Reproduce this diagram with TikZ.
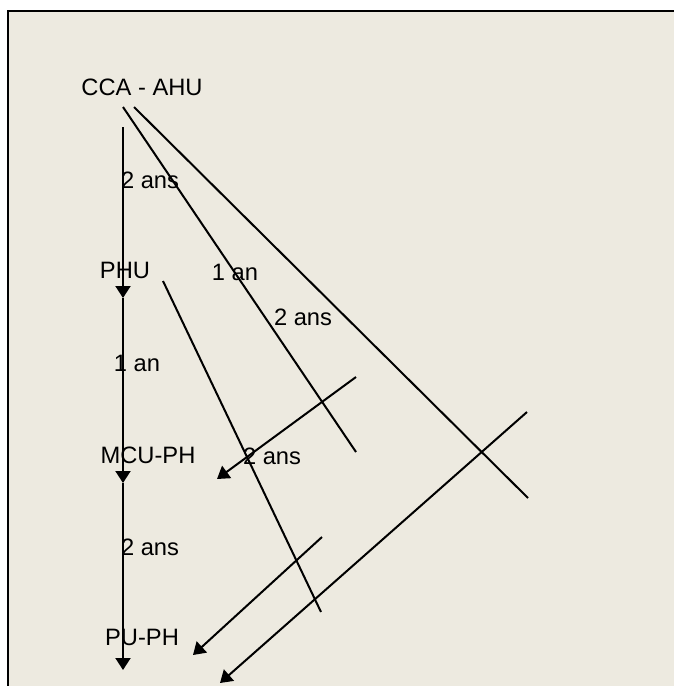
\documentclass[tikz,border=0pt]{standalone}
\usepackage{fontspec}
\setmainfont{Liberation Sans}
\usetikzlibrary{arrows.meta}
\definecolor{cursus@paper}{RGB}{237,234,224}
\tikzset{
  cursus/.style={
    x=0.5pt, y=-0.5pt,
    line width=1pt,
    >={Triangle[length=6pt,width=7.5pt]},
    every node/.style={font=\fontsize{11.85}{14}\selectfont, inner sep=0pt}
  },
  grade/.style={anchor=center},      % position title
  delay/.style={anchor=center},      % duration label
  track/.style={line width=1pt, draw=black},
  promo/.style={->, line width=1pt, draw=black}
}

\begin{document}
\begin{tikzpicture}[cursus]
\useasboundingbox (0,0) rectangle (674,686);
\fill[white] (0,0) rectangle (674,686);

% Frame, open to the right and bottom
\fill[cursus@paper] (8,11) rectangle (674,686);
\draw[line width=1pt] (8,686) -- (8,11) -- (674,11);

% Positions down the left side
\node[grade] (cca) at (142,87)  {CCA - AHU};
\node[grade] (phu) at (125,270) {PHU};
\node[grade] (mcu) at (148,455) {MCU-PH};
\node[grade] (pu)  at (142,637) {PU-PH};

% Points of the main axis
\coordinate (axtop) at (123,127);
\coordinate (axphu) at (123,298);
\coordinate (axmcu) at (123,483);
\coordinate (axpu)  at (123,670);

% Main axis
\draw[promo] (axtop) -- (axphu);
\draw[promo] (axphu) -- (axmcu);
\draw[promo] (axmcu) -- (axpu);

\node[delay] (d1) at (150,180) {2 ans};
\node[delay] (d2) at (137,363) {1 an};
\node[delay] (d3) at (150,547) {2 ans};

% Shortcut lines
\coordinate (s1a) at (123,107);
\coordinate (s1b) at (356,452);
\coordinate (s2a) at (134,107);
\coordinate (s2b) at (528,498);
\coordinate (s3a) at (163,281);
\coordinate (s3b) at (321,612);
\draw[track] (s1a) -- (s1b);
\draw[track] (s2a) -- (s2b);
\draw[track] (s3a) -- (s3b);

\node[delay] (d4) at (235,272) {1 an};
\node[delay] (d5) at (303,317) {2 ans};
\node[delay] (d6) at (272,456) {2 ans};

% Crossing arrows back to the axis
\coordinate (c1a) at (356,377);
\coordinate (c1b) at (217,479);
\coordinate (c2a) at (527,412);
\coordinate (c2b) at (220,683);
\coordinate (c3a) at (322,537);
\coordinate (c3b) at (193,655);
\draw[promo] (c1a) -- (c1b);
\draw[promo] (c2a) -- (c2b);
\draw[promo] (c3a) -- (c3b);

\end{tikzpicture}
\end{document}
